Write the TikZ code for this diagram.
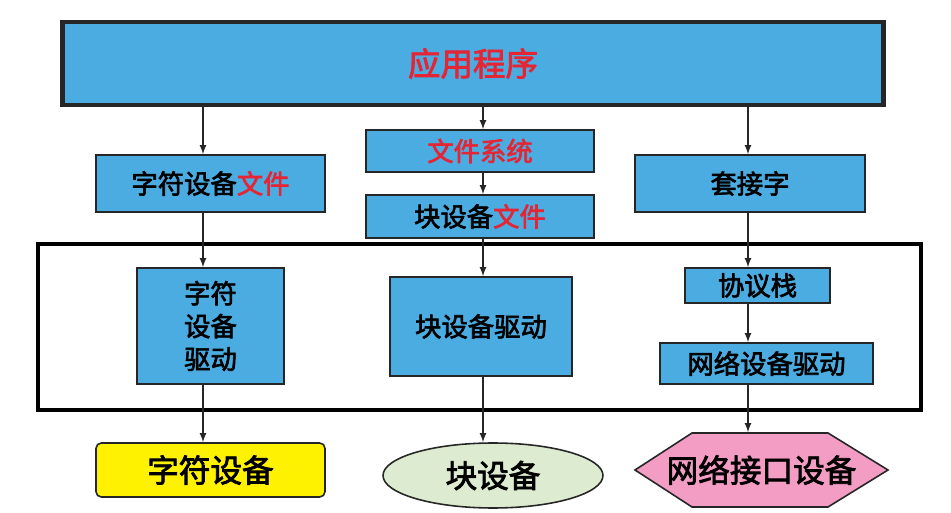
\documentclass[tikz,border=0pt]{standalone}
\usepackage{fontspec}
\newfontfamily\cjk[FakeBold=2.5]{Noto Sans CJK SC}
\usepackage{xcolor}
\usetikzlibrary{arrows,shapes,calc}
\definecolor{appblue}{RGB}{75,172,226}
\definecolor{appred}{RGB}{228,38,52}
\definecolor{devyellow}{RGB}{255,242,0}
\definecolor{devgreen}{RGB}{221,236,209}
\definecolor{devpink}{RGB}{243,156,196}

\begin{document}
\begin{tikzpicture}[x=0.02cm,y=-0.02cm,
  box/.style={draw=black!85,line width=0.9pt,fill=appblue,inner sep=0pt,font=\cjk\fontsize{15}{18.7}\selectfont},
  dev/.style={draw=black!85,line width=0.9pt,inner sep=0pt,font=\cjk\fontsize{18}{20}\selectfont},
  arr/.style={-latex,line width=0.8pt,black!85}]
\useasboundingbox[fill=white] (0,0) rectangle (951,513);
\coordinate (colA) at (203,0);
\coordinate (colB) at (483,0);
\coordinate (colC) at (748,0);

% application
\node[box,line width=2.8pt,minimum width=16.44cm,minimum height=1.66cm,font=\cjk\fontsize{18.5}{20}\selectfont,text=appred] (app) at (473,63.5) {应用程序};

% files
\node[box,minimum width=4.58cm,minimum height=1.14cm] (cfile) at (210.5,183.5) {字符设备\textcolor{appred}{文件}};
\node[box,minimum width=4.56cm,minimum height=0.84cm,text=appred] (fs) at (480,151) {文件系统};
\node[box,minimum width=4.56cm,minimum height=0.86cm] (bfile) at (480,216.5) {块设备\textcolor{appred}{文件}};
\node[box,minimum width=4.6cm,minimum height=1.14cm] (sock) at (750,183.5) {套接字};

% kernel frame
\node[draw=black,line width=2.5pt,minimum width=17.66cm,minimum height=3.32cm] (kern) at (479.5,327) {};

% drivers
\node[box,minimum width=2.94cm,minimum height=2.32cm,align=center] (cdrv) at (210.5,326) {字符\\设备\\驱动};
\node[box,minimum width=3.64cm,minimum height=1.98cm] (bdrv) at (481,326.5) {块设备驱动};
\node[box,minimum width=2.9cm,minimum height=0.7cm] (proto) at (757.5,285.5) {协议栈};
\node[box,minimum width=4.26cm,minimum height=0.82cm] (ndrv) at (766.5,363.5) {网络设备驱动};

% devices
\node[dev,fill=devyellow,rounded corners=3pt,minimum width=4.58cm,minimum height=1.08cm] (cdev) at (210.5,470) {字符设备};
\node[dev,fill=devgreen,ellipse,minimum width=4.4cm,minimum height=1.3cm] (bdev) at (493,475.5) {块设备};
\draw[draw=black!85,line width=0.9pt,fill=devpink] (635,470) -- (692,433) -- (828,433) -- (888,470) -- (828,507) -- (692,507) -- cycle;
\node[dev,draw=none,minimum width=5.06cm,minimum height=1.48cm] (ndev) at (761.5,470) {网络接口设备};

% arrows
\draw[arr] (app.south -| colA) -- (cfile.north -| colA);
\draw[arr] (cfile.south -| colA) -- (cdrv.north -| colA);
\draw[arr] (cdrv.south -| colA) -- (cdev.north -| colA);
\draw[arr] (app.south -| colB) -- (fs.north -| colB);
\draw[arr] (fs.south -| colB) -- (bfile.north -| colB);
\draw[arr] (bfile.south -| colB) -- (bdrv.north -| colB);
\draw[arr] (bdrv.south -| colB) -- (bdev.north -| colB);
\draw[arr] (app.south -| colC) -- (sock.north -| colC);
\draw[arr] (sock.south -| colC) -- (proto.north -| colC);
\draw[arr] (proto.south -| colC) -- (ndrv.north -| colC);
\draw[arr] (ndrv.south -| colC) -- (ndev.north -| colC);
\end{tikzpicture}
\end{document}
